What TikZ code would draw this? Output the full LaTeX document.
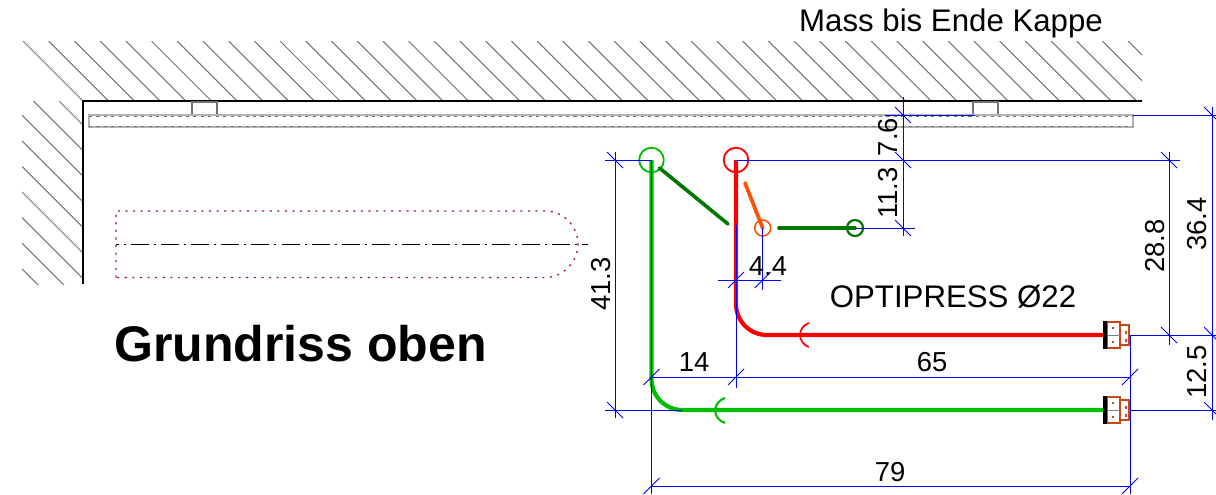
\documentclass[tikz,border=0pt]{standalone}
\usepackage{fontspec}
\setmainfont{Liberation Sans}
\usetikzlibrary{positioning}

\definecolor{pipegreen}{RGB}{0,190,0}
\definecolor{darkgreen}{RGB}{0,120,0}
\definecolor{pipered}{RGB}{255,0,0}
\definecolor{valveorange}{RGB}{255,80,0}
\definecolor{fittingbrown}{RGB}{200,70,20}
\definecolor{outlinered}{RGB}{150,30,50}

\begin{document}
\begin{tikzpicture}[
        x=0.025cm, y=-0.025cm,
        hatch/.style={draw=black!55, line width=0.75pt},
        wall/.style={draw=black, line width=2.1pt},
        panel/.style={draw=black!30, line width=0.9pt},
        paneldash/.style={draw=black!55, line width=0.9pt, dash pattern=on 2.2pt off 3.1pt},
        clip box/.style={draw=black!55, line width=1.9pt},
        dim/.style={draw=blue, line width=0.7pt},
        pipe/.style={line width=3pt, rounded corners=22pt},
        arm/.style={line width=2.6pt, line cap=round},
        lbl/.style={font=\fontsize{19.5}{22}\selectfont, inner sep=0pt},
        biglbl/.style={font=\fontsize{22.2}{25}\selectfont, inner sep=0pt},
        vlbl/.style={lbl, rotate=90},
        fitting/.pic={
            \draw[fittingbrown, line width=1.3pt, fill=white] (2,-13) rectangle (15,13);
            \draw[fittingbrown, line width=1.3pt, fill=white] (15,-10) rectangle (24,10);
            \draw[black!50, line width=0.7pt] (2,0) -- (15,0);
            \foreach \dx/\dy in {8/-7, 8/7, 21/-2.5, 21/5.5} {
                \fill[fittingbrown] (\dx-1.3,\dy-1.3) rectangle (\dx+1.3,\dy+1.3);
            }
            \draw[black, line width=2.3pt] (0,-14) -- (0,14);
        }
    ]
    \useasboundingbox (0,0) rectangle (1216,494);

    % Wand schraffiert
    \begin{scope}
        \clip (22,41) rectangle (1142,101);
        \foreach \k in {0,...,43} {
            \draw[hatch] (83+25.7*\k-60,41) -- (83+25.7*\k,101);
        }
    \end{scope}
    \begin{scope}
        \clip (22,101) rectangle (83,284);
        \foreach \k in {0,...,8} {
            \draw[hatch] (22,64+25.6*\k) -- (83,125+25.6*\k);
        }
    \end{scope}
    \coordinate (wallend) at (83,284);
    \coordinate (wallcorner) at (83,101);
    \coordinate (wallright) at (1142,101);
    \draw[wall] (wallend) -- (wallcorner) -- (wallright);

    % Blende
    \draw[panel] (89,115) rectangle (1133,127);
    \draw[paneldash] (89,116.5) -- (1133,116.5);
    \draw[paneldash] (89,126.5) -- (1133,126.5);
    \foreach \x in {192,973} {
        \draw[clip box] (\x,114) -- (\x,102) -- (\x+25,102) -- (\x+25,114);
    }

    % Kappe
    \draw[outlinered, line width=0.9pt, dash pattern=on 1.5pt off 3.9pt]
        (116,277.5) -- (116,211) -- (548,211) .. controls (566,213) and (578,228) .. (578,244)
        .. controls (578,260) and (566,275) .. (548,277.5) -- cycle;
    \draw[black, line width=0.6pt, dash pattern=on 12.8pt off 3.6pt on 1.4pt off 3.6pt, dash phase=10.7pt]
        (116,244) -- (588,244);

    % Punkte
    \coordinate (greentop) at (651.5,160);
    \coordinate (redtop) at (736,160);
    \coordinate (greenend) at (1105,410);
    \coordinate (redend) at (1105,335);
    \coordinate (valve) at (762.7,228);
    \coordinate (knob) at (855,228);

    % Rohre
    \draw[pipe, pipegreen] (greentop) |- (greenend);
    \draw[pipe, pipered] (redtop) |- (redend);
    \draw[pipegreen, line width=1.5pt] (725,398) .. controls (712,402) and (712,419) .. (725,423);
    \draw[pipered, line width=1.2pt] (809,323) .. controls (797,327) and (797,343) .. (809,347);
    \draw[pipegreen, line width=1.3pt] (greentop) circle (12.3);
    \draw[pipered, line width=1.3pt] (redtop) circle (12.3);
    \draw[valveorange, line width=1.1pt] (valve) circle (8);
    \draw[darkgreen, line width=1.6pt] (knob) circle (8);
    \coordinate (armgreen) at (659.5,168);
    \coordinate (armgreenend) at (728,224);
    \coordinate (armorange) at (745,183);
    \coordinate (armknob) at (779,228);
    \draw[arm, darkgreen] (armgreen) -- (armgreenend);
    \draw[arm, valveorange] (armorange) -- (valve);
    \draw[arm, darkgreen] (armknob) -- (knob);

    % Anschluesse
    \pic at (redend) {fitting};
    \pic at (greenend) {fitting};

    % Masslinien
    \draw[dim] (903,97) -- (903,236);
    \draw[dim] (885,115) -- (975,115);
    \draw[dim] (redtop) -- (1180,160);
    \draw[dim] (knob) -- (915,228);
    \draw[dim] (1133,115) -- (1216,115);
    \draw[dim] (1212,107) -- (1212,420);
    \draw[dim] (1169,152) -- (1169,345);
    \draw[dim] (1130,335) -- (1216,335);
    \draw[dim] (1130,410) -- (1216,410);
    \draw[dim] (605,160) -- (greentop);
    \draw[dim] (605,410) -- (682,410);
    \draw[dim] (615,152) -- (615,418);
    \draw[dim] (greentop) -- (651.5,494);
    \draw[dim] (736,225) -- (736,388);
    \draw[dim] (1130,335) -- (1130,494);
    \draw[dim] (651.5,377) -- (1130,377);
    \draw[dim] (651.5,486) -- (1130,486);
    \draw[dim] (718,280) -- (781,280);
    \draw[dim] (valve) -- (762.7,290);
    % Striche
    \foreach \x/\y in {903/115, 903/160, 903/228, 1169/160, 1169/335, 1212/115, 1212/335, 1212/410, 615/160, 615/410} {
        \draw[dim] (\x-8,\y-8) -- (\x+8,\y+8);
    }
    \foreach \x/\y in {651.5/377, 736/377, 1130/377, 651.5/486, 1130/486, 736/280, 762.7/280} {
        \draw[dim] (\x-8,\y+8) -- (\x+8,\y-8);
    }

    % Texte
    \node[biglbl] (kappe) at (951,23) {Mass bis Ende Kappe};
    \node[biglbl] (optipress) at (953,297) {OPTIPRESS Ø22};
    \node[inner sep=0pt, font=\fontsize{35.6}{40}\selectfont\bfseries] (titel) at (300.5,344) {Grundriss oben};
    \node[vlbl] (m76) at (888,137) {7.6};
    \node[vlbl] (m113) at (888,193) {11.3};
    \node[lbl] (m44) at (768,266) {4.4};
    \node[vlbl] (m413) at (601,284) {41.3};
    \node[vlbl] (m288) at (1155,246) {28.8};
    \node[vlbl] (m364) at (1197,224) {36.4};
    \node[vlbl] (m125) at (1197,372) {12.5};
    \node[lbl] (m14) at (694,362) {14};
    \node[lbl] (m65) at (932,362) {65};
    \node[lbl] (m79) at (890,472) {79};
\end{tikzpicture}
\end{document}
